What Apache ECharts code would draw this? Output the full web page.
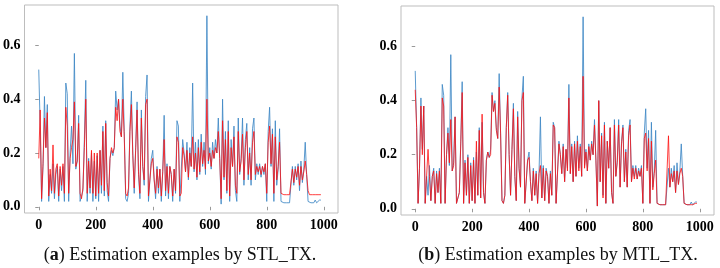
<!DOCTYPE html>
<html>
<head>
<meta charset="utf-8">
<script src="https://cdn.jsdelivr.net/npm/echarts@6/dist/echarts.min.js"></script>
<style>
  html, body { margin: 0; padding: 0; background: #fff; }
  #chart { width: 720px; height: 268px; }
</style>
</head>
<body>
<div id="chart"></div>
<script>
// sample spacing along the x axis (every 5th example)
var step = 5;

var truth = [
  0.51, 0.30, 0.02, 0.15, 0.41, 0.22, 0.38, 0.02, 0.12, 0.05,
  0.16, 0.03, 0.12, 0.15, 0.02, 0.14, 0.06, 0.15, 0.02, 0.46,
  0.42, 0.02, 0.20, 0.30, 0.16, 0.57, 0.14, 0.17, 0.34, 0.02,
  0.02, 0.06, 0.25, 0.47, 0.02, 0.18, 0.05, 0.20, 0.02, 0.17,
  0.03, 0.19, 0.02, 0.21, 0.05, 0.30, 0.04, 0.32, 0.06, 0.02,
  0.18, 0.21, 0.19, 0.22, 0.43, 0.36, 0.40, 0.30, 0.26, 0.50,
  0.28, 0.03, 0.02, 0.05, 0.30, 0.43, 0.20, 0.05, 0.22, 0.39,
  0.12, 0.03, 0.36, 0.15, 0.08, 0.41, 0.49, 0.02, 0.02, 0.18,
  0.21, 0.10, 0.03, 0.15, 0.05, 0.14, 0.02, 0.13, 0.34, 0.04,
  0.16, 0.03, 0.15, 0.12, 0.02, 0.14, 0.05, 0.32, 0.30, 0.02,
  0.02, 0.25, 0.20, 0.13, 0.24, 0.10, 0.22, 0.15, 0.46, 0.13,
  0.24, 0.10, 0.25, 0.12, 0.27, 0.15, 0.24, 0.12, 0.71, 0.16,
  0.22, 0.14, 0.24, 0.18, 0.25, 0.20, 0.33, 0.18, 0.01, 0.40,
  0.10, 0.28, 0.05, 0.32, 0.02, 0.25, 0.15, 0.30, 0.06, 0.02,
  0.33, 0.12, 0.18, 0.33, 0.08, 0.25, 0.31, 0.10, 0.22, 0.08,
  0.29, 0.33, 0.10, 0.16, 0.12, 0.16, 0.11, 0.15, 0.12, 0.16,
  0.02, 0.28, 0.37, 0.15, 0.29, 0.02, 0.32, 0.08, 0.14, 0.29,
  0.02, 0.015, 0.015, 0.015, 0.015, 0.015, 0.015, 0.015, 0.15, 0.08,
  0.15, 0.10, 0.16, 0.06, 0.17, 0.09, 0.14, 0.24, 0.12, 0.02,
  0.015, 0.015, 0.015, 0.015, 0.025, 0.015, 0.02, 0.025, 0.025
];

// STL_TX estimates (red, left panel)
var stlEst = [
  0.18, 0.36, 0.03, 0.16, 0.33, 0.22, 0.35, 0.04, 0.14, 0.06,
  0.23, 0.05, 0.14, 0.16, 0.04, 0.15, 0.08, 0.16, 0.05, 0.37,
  0.30, 0.05, 0.18, 0.22, 0.25, 0.39, 0.15, 0.17, 0.31, 0.05,
  0.03, 0.07, 0.22, 0.40, 0.05, 0.17, 0.07, 0.21, 0.05, 0.20,
  0.04, 0.20, 0.05, 0.21, 0.08, 0.28, 0.06, 0.31, 0.09, 0.04,
  0.18, 0.22, 0.20, 0.22, 0.37, 0.32, 0.40, 0.28, 0.26, 0.40,
  0.26, 0.05, 0.04, 0.07, 0.28, 0.38, 0.19, 0.07, 0.21, 0.36,
  0.13, 0.05, 0.33, 0.15, 0.10, 0.38, 0.40, 0.04, 0.04, 0.16,
  0.18, 0.10, 0.05, 0.14, 0.07, 0.14, 0.04, 0.13, 0.25, 0.06,
  0.15, 0.05, 0.15, 0.12, 0.04, 0.14, 0.06, 0.26, 0.24, 0.04,
  0.05, 0.22, 0.19, 0.13, 0.21, 0.11, 0.20, 0.15, 0.26, 0.14,
  0.20, 0.11, 0.22, 0.13, 0.24, 0.16, 0.21, 0.14, 0.40, 0.17,
  0.20, 0.15, 0.21, 0.18, 0.22, 0.20, 0.28, 0.18, 0.03, 0.32,
  0.11, 0.25, 0.06, 0.28, 0.04, 0.22, 0.15, 0.26, 0.08, 0.05,
  0.28, 0.13, 0.17, 0.27, 0.10, 0.22, 0.28, 0.12, 0.20, 0.10,
  0.24, 0.28, 0.12, 0.15, 0.13, 0.15, 0.12, 0.15, 0.13, 0.16,
  0.05, 0.24, 0.30, 0.16, 0.27, 0.05, 0.26, 0.10, 0.15, 0.24,
  0.05, 0.045, 0.045, 0.045, 0.045, 0.045, 0.045, 0.045, 0.14, 0.09,
  0.14, 0.11, 0.15, 0.08, 0.15, 0.10, 0.13, 0.17, 0.12, 0.06,
  0.045, 0.045, 0.045, 0.045, 0.045, 0.045, 0.045, 0.045, 0.045
];

// MTL_TX estimates (red, right panel)
var mtlEst = [
  0.44, 0.30, 0.02, 0.15, 0.38, 0.20, 0.38, 0.02, 0.12, 0.22,
  0.12, 0.03, 0.12, 0.14, 0.02, 0.13, 0.06, 0.14, 0.02, 0.41,
  0.38, 0.02, 0.20, 0.28, 0.17, 0.33, 0.14, 0.16, 0.34, 0.02,
  0.02, 0.06, 0.24, 0.43, 0.02, 0.17, 0.05, 0.19, 0.02, 0.16,
  0.03, 0.18, 0.02, 0.25, 0.05, 0.29, 0.04, 0.35, 0.06, 0.02,
  0.18, 0.21, 0.19, 0.20, 0.42, 0.36, 0.39, 0.29, 0.26, 0.45,
  0.28, 0.03, 0.02, 0.05, 0.30, 0.42, 0.20, 0.05, 0.22, 0.37,
  0.12, 0.03, 0.34, 0.15, 0.08, 0.40, 0.43, 0.02, 0.02, 0.18,
  0.19, 0.10, 0.03, 0.14, 0.05, 0.13, 0.02, 0.13, 0.16, 0.04,
  0.15, 0.03, 0.14, 0.12, 0.02, 0.13, 0.05, 0.31, 0.30, 0.02,
  0.02, 0.24, 0.20, 0.13, 0.23, 0.10, 0.22, 0.14, 0.41, 0.13,
  0.23, 0.10, 0.24, 0.12, 0.25, 0.14, 0.23, 0.12, 0.49, 0.15,
  0.21, 0.14, 0.23, 0.18, 0.24, 0.20, 0.31, 0.18, 0.01, 0.40,
  0.10, 0.27, 0.04, 0.31, 0.02, 0.25, 0.15, 0.30, 0.06, 0.02,
  0.31, 0.12, 0.17, 0.31, 0.08, 0.24, 0.30, 0.10, 0.21, 0.08,
  0.27, 0.31, 0.10, 0.15, 0.11, 0.15, 0.11, 0.14, 0.12, 0.15,
  0.02, 0.26, 0.28, 0.14, 0.26, 0.02, 0.25, 0.07, 0.13, 0.18,
  0.02, 0.015, 0.015, 0.015, 0.015, 0.015, 0.015, 0.015, 0.27, 0.08,
  0.13, 0.10, 0.14, 0.06, 0.14, 0.09, 0.13, 0.15, 0.12, 0.02,
  0.015, 0.015, 0.015, 0.015, 0.015, 0.015, 0.02, 0.02, 0.02
];

var xTicks = [0, 200, 400, 600, 800, 1000];
var yTicks = [0, 0.2, 0.4, 0.6];
var captions = ['a', 'b'];
var captionTexts = [' Estimation examples by STL_TX.', ' Estimation examples by MTL_TX.'];

function pairs(arr) {
  return arr.map(function (v, k) { return [k * step, v]; });
}

var labelFont = {
  fontFamily: 'Liberation Serif',
  fontWeight: 'bold',
  fontSize: 14,
  color: '#000'
};

function xAxisFor(g) {
  return {
    type: 'value', gridIndex: g, min: -50, max: 1050,
    axisLine: { show: false },
    splitLine: { show: false },
    axisTick: { show: true, length: 3.5, customValues: xTicks, lineStyle: { color: '#999' } },
    axisLabel: Object.assign({
      customValues: xTicks, margin: 5,
      formatter: function (v) { return String(v); }
    }, labelFont)
  };
}

function yAxisFor(g) {
  return {
    type: 'value', gridIndex: g, min: -0.023, max: 0.75,
    axisLine: { show: false },
    splitLine: { show: false },
    axisTick: { show: true, length: 3.5, customValues: yTicks, lineStyle: { color: '#999' } },
    axisLabel: Object.assign({
      customValues: yTicks, margin: 4,
      formatter: function (v) { return v.toFixed(1); }
    }, labelFont)
  };
}

function lineSeries(g, arr, color, op) {
  return {
    type: 'line', xAxisIndex: g, yAxisIndex: g,
    data: pairs(arr), showSymbol: false, animation: false,
    lineStyle: { color: color, width: 1, opacity: op }
  };
}

var chart = echarts.init(document.getElementById('chart'));
var option = {
  backgroundColor: '#fff',
  title: [0, 1].map(function (k) {
    return {
      text: '(' + '{b|' + captions[k] + '}' + ')' + captionTexts[k],
      left: k === 0 ? 175 : 553,
      top: 241,
      textAlign: 'center',
      textStyle: {
        fontFamily: 'Liberation Serif', fontWeight: 'normal', fontSize: 18, color: '#111',
        rich: { b: { fontFamily: 'Liberation Serif', fontWeight: 'bold', fontSize: 18, color: '#111' } }
      }
    };
  }),
  grid: [
    { left: 23, top: 5, width: 315, height: 208, show: true, borderColor: '#bdbdbd', borderWidth: 1 },
    { left: 401, top: 6, width: 313, height: 209, show: true, borderColor: '#bdbdbd', borderWidth: 1 }
  ],
  xAxis: [xAxisFor(0), xAxisFor(1)],
  yAxis: [yAxisFor(0), yAxisFor(1)],
  series: [
    lineSeries(0, truth, '#3f88c5', 0.85),
    lineSeries(0, stlEst, '#ff1010', 0.8),
    lineSeries(1, truth, '#3f88c5', 0.85),
    lineSeries(1, mtlEst, '#ff1010', 0.8)
  ]
};
chart.setOption(option);
</script>
</body>
</html>
